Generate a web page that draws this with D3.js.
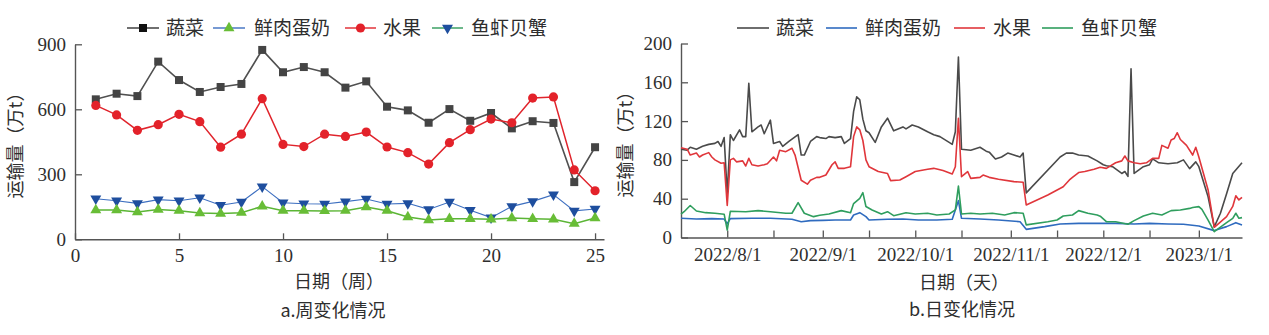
<!DOCTYPE html>
<html><head><meta charset="utf-8">
<script src="https://cdn.jsdelivr.net/npm/d3@7"></script>
<style>body{margin:0;background:#fff;} svg{display:block;}</style>
</head><body><svg id="c" width="1269" height="335"></svg>
<script>
// ---------- data ----------
const seriesNames = ["蔬菜", "鲜肉蛋奶", "水果", "鱼虾贝蟹"];
const weeks = [1,2,3,4,5,6,7,8,9,10,11,12,13,14,15,16,17,18,19,20,21,22,23,24,25];
const weekVeg   = [646,672,661,820,735,680,703,717,874,771,795,771,700,729,612,595,538,601,547,583,512,545,537,264,425];
const weekMeat  = [135,135,126,137,132,121,119,123,152,132,132,131,132,149,132,103,89,95,95,92,98,95,92,72,98];
const weekFruit = [618,574,503,529,577,543,425,485,649,438,428,485,475,495,426,400,347,446,506,555,538,652,657,320,224];
const weekSea   = [187,178,166,183,178,192,157,172,243,169,164,163,174,186,163,166,138,172,134,100,152,175,206,131,140];
const weekYTicks = [0,300,600,900];
const weekXTicks = [0,5,10,15,20,25];

const vegDates = ["2022/7/17","2022/7/19","2022/7/20","2022/7/22","2022/7/24","2022/7/26","2022/7/28","2022/7/29","2022/7/30","2022/7/31","2022/8/1","2022/8/2","2022/8/3","2022/8/5","2022/8/6","2022/8/7","2022/8/8","2022/8/9","2022/8/11","2022/8/12","2022/8/13","2022/8/15","2022/8/16","2022/8/18","2022/8/19","2022/8/21","2022/8/24","2022/8/25","2022/8/26","2022/8/28","2022/8/30","2022/8/31","2022/9/2","2022/9/3","2022/9/5","2022/9/7","2022/9/8","2022/9/10","2022/9/11","2022/9/12","2022/9/13","2022/9/14","2022/9/15","2022/9/16","2022/9/18","2022/9/20","2022/9/22","2022/9/24","2022/9/27","2022/9/28","2022/9/30","2022/10/2","2022/10/5","2022/10/7","2022/10/9","2022/10/12","2022/10/13","2022/10/14","2022/10/15","2022/10/16","2022/10/19","2022/10/20","2022/10/22","2022/10/24","2022/10/25","2022/10/27","2022/10/29","2022/10/31","2022/11/2","2022/11/4","2022/11/5","2022/11/6","2022/11/17","2022/11/19","2022/11/21","2022/11/23","2022/11/26","2022/11/29","2022/12/1","2022/12/2","2022/12/4","2022/12/7","2022/12/8","2022/12/9","2022/12/10","2022/12/11","2022/12/14","2022/12/16","2022/12/17","2022/12/19","2022/12/22","2022/12/25","2022/12/27","2022/12/29","2022/12/31","2023/1/1","2023/1/4","2023/1/6","2023/1/8","2023/1/10","2023/1/12","2023/1/15"];
const vegDaily = [91,90,93,91,94,96,97,99,94,103,45,106,100,111,104,104,159,109,114,116,107,121,97,99,94,99,106,85,85,99,104,103,102,104,103,104,97,102,130,145,142,122,110,108,98,114,123,110,114,112,116,114,109,106,104,98,96,109,186,91,90,91,93,89,88,81,83,87,85,83,87,46,83,87,87,85,84,79,75,74,73,66,68,63,174,66,73,75,81,77,76,77,80,71,78,73,42,11,25,45,66,77];

const meatDates = ["2022/7/17","2022/7/22","2022/7/27","2022/7/31","2022/8/1","2022/8/2","2022/8/9","2022/8/15","2022/8/22","2022/8/25","2022/8/28","2022/9/1","2022/9/5","2022/9/10","2022/9/11","2022/9/13","2022/9/15","2022/9/16","2022/9/22","2022/9/27","2022/10/2","2022/10/8","2022/10/13","2022/10/15","2022/10/16","2022/10/22","2022/10/28","2022/11/4","2022/11/6","2022/11/12","2022/11/17","2022/11/23","2022/12/1","2022/12/5","2022/12/11","2022/12/16","2022/12/22","2022/12/27","2023/1/1","2023/1/6","2023/1/10","2023/1/13","2023/1/15"];
const meatDaily = [19.8,19.1,19.5,19.1,14,19.5,19.8,19.8,18.8,16.3,17.4,17.7,18,18,23.2,25.6,21.5,18,18.8,19.1,18,18,18.8,38,19.8,19.1,18,16.3,8.4,11.2,13.9,14.6,14.6,14.6,13.9,14.6,13.9,13.6,11.9,7.1,11.2,15.3,12.9];

const fruitDates = ["2022/7/17","2022/7/19","2022/7/20","2022/7/22","2022/7/23","2022/7/24","2022/7/26","2022/7/27","2022/7/28","2022/7/30","2022/7/31","2022/8/1","2022/8/2","2022/8/3","2022/8/4","2022/8/6","2022/8/7","2022/8/8","2022/8/9","2022/8/11","2022/8/13","2022/8/14","2022/8/16","2022/8/17","2022/8/18","2022/8/20","2022/8/22","2022/8/23","2022/8/25","2022/8/27","2022/8/28","2022/8/30","2022/8/31","2022/9/2","2022/9/4","2022/9/5","2022/9/6","2022/9/8","2022/9/10","2022/9/11","2022/9/12","2022/9/13","2022/9/14","2022/9/15","2022/9/16","2022/9/19","2022/9/22","2022/9/23","2022/9/26","2022/9/28","2022/10/1","2022/10/5","2022/10/7","2022/10/10","2022/10/13","2022/10/14","2022/10/15","2022/10/16","2022/10/18","2022/10/19","2022/10/22","2022/10/23","2022/10/25","2022/10/28","2022/11/2","2022/11/5","2022/11/6","2022/11/13","2022/11/18","2022/11/20","2022/11/21","2022/11/23","2022/11/25","2022/11/28","2022/11/30","2022/12/2","2022/12/5","2022/12/7","2022/12/8","2022/12/9","2022/12/11","2022/12/13","2022/12/15","2022/12/17","2022/12/19","2022/12/20","2022/12/22","2022/12/23","2022/12/24","2022/12/25","2022/12/26","2022/12/28","2022/12/30","2022/12/31","2023/1/1","2023/1/4","2023/1/6","2023/1/10","2023/1/12","2023/1/13","2023/1/14","2023/1/15"];
const fruitDaily = [92.6,91,85,87,83,85,87.5,83,80,76.5,77,33,80,81.6,78,79,73.7,81.6,75,73.7,75,76,83,79,90,88.5,92,85,59,55,59,62,62,64.4,75,78,71.3,71.3,73,104,114,111,100,80,73,68,66,58.6,59.3,62.7,68,70.3,71.3,69,65.5,73,123,62.7,68,61,62,64.4,62,60,57.6,57,33.5,43.8,52.4,59.3,62,67,68,70.3,72.4,71.3,77,79,84,79,77,76,77,81.6,81.6,95,92,100.5,102,108,101,95,85,93,83,49,10.5,21.5,32,43,38.7,41.4];

const seaDates = ["2022/7/17","2022/7/18","2022/7/20","2022/7/22","2022/7/25","2022/7/28","2022/7/31","2022/8/1","2022/8/2","2022/8/7","2022/8/11","2022/8/15","2022/8/20","2022/8/22","2022/8/24","2022/8/26","2022/8/29","2022/8/31","2022/9/3","2022/9/7","2022/9/10","2022/9/11","2022/9/13","2022/9/14","2022/9/15","2022/9/17","2022/9/20","2022/9/22","2022/9/24","2022/9/28","2022/10/1","2022/10/5","2022/10/8","2022/10/12","2022/10/14","2022/10/15","2022/10/16","2022/10/19","2022/10/22","2022/10/26","2022/10/30","2022/11/2","2022/11/5","2022/11/6","2022/11/13","2022/11/16","2022/11/18","2022/11/21","2022/11/23","2022/11/26","2022/11/29","2022/11/30","2022/12/2","2022/12/5","2022/12/9","2022/12/11","2022/12/14","2022/12/17","2022/12/20","2022/12/23","2022/12/26","2022/12/29","2022/12/30","2023/1/1","2023/1/2","2023/1/4","2023/1/6","2023/1/10","2023/1/12","2023/1/13","2023/1/14","2023/1/15"];
const seaDaily = [24,26.6,33,27.3,25.6,25,24,7.7,27,26.6,27.7,26.6,25,25,36,25,21.5,23,24.2,27.7,25.6,35,40.4,46.3,32,28.4,24.2,26.6,22.5,25.6,24.2,25,23.2,24.2,28.4,53,24.2,25,24.2,25,23.2,25.6,25,13,16.3,18,22.2,23.2,27.7,25,23.2,22,16.3,16.3,13.6,17.4,22.2,25,23.2,27.7,28.4,30,31,31.8,29,18,6,15.3,19.8,25,19.8,20.5];
const dayYTicks = [0,40,80,120,160,200];
const dayXTicks = ["2022/8/1","2022/8/16","2022/9/1","2022/9/16","2022/10/1","2022/10/16","2022/11/1","2022/11/16","2022/12/1","2022/12/16","2023/1/1"];

// ---------- style ----------
const CJK = "'Noto Sans CJK SC', 'Noto Sans', sans-serif";
const SERIF = "'Liberation Serif', 'DejaVu Serif', serif";
const TXT = "#2e2e2e";
const AX = "#555";

const svg = d3.select("#c");

// ======== Chart a: weekly ========
const xW = d3.scaleLinear().domain([0, 25.43]).range([75, 604]);
const yW = d3.scaleLinear().domain([0, 900]).range([239.3, 44.3]);

function styleAxis(g) {
  g.select(".domain").attr("stroke", AX).attr("stroke-width", 1.4);
  g.selectAll(".tick line").attr("stroke", AX).attr("stroke-width", 1.3);
  g.selectAll(".tick text").attr("fill", TXT).style("font-family", SERIF).style("font-size", "19px");
}

svg.append("g").attr("transform", `translate(0,${yW(0)})`)
  .call(d3.axisBottom(xW).tickValues(weekXTicks).tickSizeInner(-6).tickSizeOuter(0).tickPadding(9))
  .call(styleAxis);
svg.append("g").attr("transform", `translate(${xW(0)},0)`)
  .call(d3.axisLeft(yW).tickValues(weekYTicks).tickSizeInner(-7).tickSizeOuter(0).tickPadding(9))
  .call(styleAxis);

const weekSeries = [
  {vals: weekVeg,   line: "#505050", lw: 1.6, mark: "square", mc: "#444"},
  {vals: weekFruit, line: "#e0242c", lw: 1.5, mark: "circle", mc: "#e3222a"},
  {vals: weekSea,   line: "#3d6fc0", lw: 1.1, mark: "tdown",  mc: "#1e4e9e"},
  {vals: weekMeat,  line: "#5bb535", lw: 1.5, mark: "tup",    mc: "#68bd36"}
];
function marker(sel, type, color) {
  if (type === "square") {
    sel.append("path").attr("d", d3.symbol(d3.symbolSquare, 64)()).attr("fill", color);
  } else if (type === "circle") {
    sel.append("circle").attr("r", 4.6).attr("fill", color);
  } else if (type === "tup") {
    sel.append("path").attr("d", d3.symbol(d3.symbolTriangle, 52)()).attr("fill", color);
  } else {
    sel.append("path").attr("d", d3.symbol(d3.symbolTriangle, 52)()).attr("transform", "rotate(180)").attr("fill", color);
  }
}
weekSeries.forEach(s => {
  const pts = weeks.map((w, i) => [w, s.vals[i]]);
  svg.append("path").datum(pts)
    .attr("d", d3.line().x(d => xW(d[0])).y(d => yW(d[1])))
    .attr("fill", "none").attr("stroke", s.line).attr("stroke-width", s.lw);
  svg.append("g").selectAll("g").data(pts).join("g")
    .attr("transform", d => `translate(${xW(d[0])},${yW(d[1])})`)
    .each(function() { marker(d3.select(this), s.mark, s.mc); });
});

// legend a
const legA = [
  {x1: 127, x2: 159, tx: 166, line: "#333", mark: "square", mc: "#111"},
  {x1: 213, x2: 245, tx: 254, line: "#3d6fc0", mark: "tup", mc: "#68bd36"},
  {x1: 345, x2: 376, tx: 383, line: "#e0242c", mark: "circle", mc: "#e3222a"},
  {x1: 432, x2: 463, tx: 471, line: "#2e9a5a", mark: "tdown", mc: "#1e4e9e"}
];
legA.forEach((l, i) => {
  svg.append("line").attr("x1", l.x1).attr("x2", l.x2).attr("y1", 28).attr("y2", 28)
    .attr("stroke", l.line).attr("stroke-width", 1.4);
  const g = svg.append("g").attr("transform", `translate(${(l.x1 + l.x2) / 2},28)`);
  marker(g, l.mark, l.mc);
  svg.append("text").attr("x", l.tx).attr("y", 28).attr("dy", "0.36em")
    .style("font-family", CJK).style("font-size", "19px").attr("fill", TXT).text(seriesNames[i]);
});

// labels a
svg.append("text").attr("transform", "translate(16,141) rotate(-90)").attr("text-anchor", "middle").attr("dy", "0.36em")
  .style("font-family", CJK).style("font-size", "18px").attr("fill", TXT).text("运输量（万t）");
svg.append("text").attr("x", 339).attr("y", 282).attr("text-anchor", "middle").attr("dy", "0.36em")
  .style("font-family", CJK).style("font-size", "18px").attr("fill", TXT).text("日期（周）");
svg.append("text").attr("x", 333).attr("y", 311).attr("text-anchor", "middle").attr("dy", "0.36em")
  .style("font-family", CJK).style("font-size", "18px").attr("fill", TXT).text("a.周变化情况");

// ======== Chart b: daily ========
const parseDay = d3.timeParse("%Y/%m/%d");
const xD = d3.scaleTime().domain([parseDay("2022/7/17"), parseDay("2023/1/15")]).range([681, 1242]);
const yD = d3.scaleLinear().domain([0, 200]).range([237.5, 43.5]);
const fmtDay = d => d.getDate() === 1 ? `${d.getFullYear()}/${d.getMonth() + 1}/${d.getDate()}` : "";

svg.append("g").attr("transform", `translate(0,${yD(0)})`)
  .call(d3.axisBottom(xD).tickValues(dayXTicks.map(parseDay)).tickFormat(fmtDay).tickSizeInner(-7).tickSizeOuter(0).tickPadding(10))
  .call(styleAxis);
svg.append("g").attr("transform", `translate(${xD.range()[0]},0)`)
  .call(d3.axisLeft(yD).tickValues(dayYTicks).tickSizeInner(-7).tickSizeOuter(0).tickPadding(9))
  .call(styleAxis);

const daySeries = [
  {dates: vegDates,   vals: vegDaily,   color: "#4a4a4a"},
  {dates: meatDates,  vals: meatDaily,  color: "#2f6bbf"},
  {dates: seaDates,   vals: seaDaily,   color: "#2f9e5e"},
  {dates: fruitDates, vals: fruitDaily, color: "#e0363b"}
];
const dayOrder = [0, 2, 3, 1]; // draw order doesn't matter much
daySeries.forEach(s => {
  const pts = s.dates.map((d, i) => [parseDay(d), s.vals[i]]);
  svg.append("path").datum(pts)
    .attr("d", d3.line().x(d => xD(d[0])).y(d => yD(d[1])))
    .attr("fill", "none").attr("stroke", s.color).attr("stroke-width", 1.6).attr("stroke-linejoin", "round");
});

// legend b
const legB = [
  {x1: 737, x2: 769, tx: 776, color: "#4a4a4a"},
  {x1: 826, x2: 857, tx: 865, color: "#2f6bbf"},
  {x1: 954, x2: 985, tx: 993, color: "#e0363b"},
  {x1: 1042, x2: 1073, tx: 1081, color: "#2f9e5e"}
];
legB.forEach((l, i) => {
  svg.append("line").attr("x1", l.x1).attr("x2", l.x2).attr("y1", 28).attr("y2", 28)
    .attr("stroke", l.color).attr("stroke-width", 1.6);
  svg.append("text").attr("x", l.tx).attr("y", 28).attr("dy", "0.36em")
    .style("font-family", CJK).style("font-size", "19px").attr("fill", TXT).text(seriesNames[i]);
});

svg.append("text").attr("transform", "translate(626,140) rotate(-90)").attr("text-anchor", "middle").attr("dy", "0.36em")
  .style("font-family", CJK).style("font-size", "18px").attr("fill", TXT).text("运输量（万t）");
svg.append("text").attr("x", 964).attr("y", 283).attr("text-anchor", "middle").attr("dy", "0.36em")
  .style("font-family", CJK).style("font-size", "18px").attr("fill", TXT).text("日期（天）");
svg.append("text").attr("x", 962).attr("y", 310).attr("text-anchor", "middle").attr("dy", "0.36em")
  .style("font-family", CJK).style("font-size", "18px").attr("fill", TXT).text("b.日变化情况");
</script>
</body></html>
